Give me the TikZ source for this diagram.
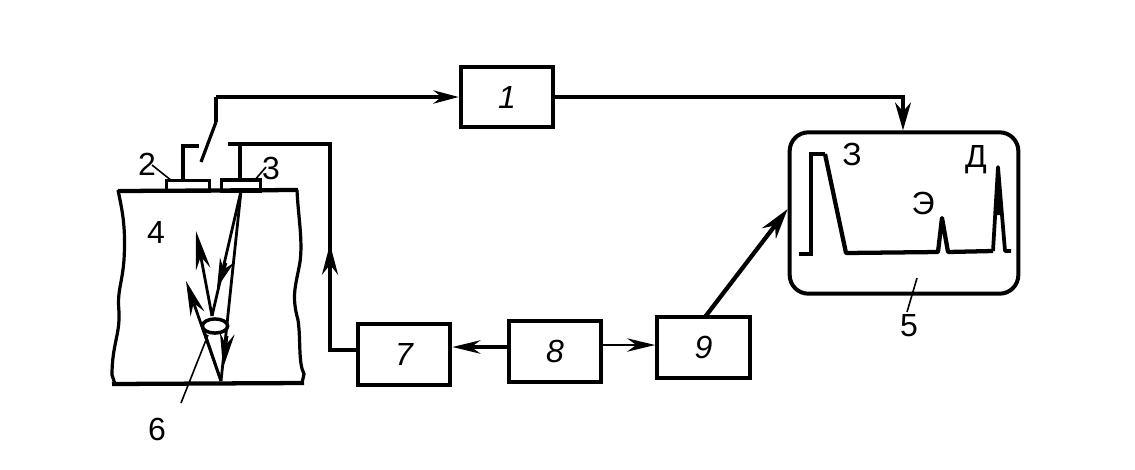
\documentclass[tikz,border=0pt]{standalone}
\usepackage{fontspec}
\setmainfont{Liberation Sans}
\usetikzlibrary{arrows.meta}
\tikzset{
  blockbox/.style={draw=black,line width=3pt,fill=white,minimum width=69.5pt,minimum height=45.5pt,inner sep=0pt,font=\itshape\fontsize{24}{24}\selectfont},
  wire/.style={draw=black,line width=2.4pt,line join=miter},
  ray/.style={draw=black,line width=2.1pt},
  heavy/.style={draw=black,line width=3.2pt},
  lbl/.style={font=\fontsize{24}{24}\selectfont,inner sep=0pt},
  leader/.style={draw=black,line width=1.2pt}
}
\begin{document}
\begin{tikzpicture}[x=0.75pt,y=-0.75pt]
\useasboundingbox (0,0) rectangle (1135,469);
\fill[white] (0,0) rectangle (1135,469);
% blocks
\node[blockbox] (b1) at (507,97) {1};
\node[blockbox] (b7) at (404,354.5) {7};
\node[blockbox] (b8) at (555,351.5) {8};
\node[blockbox] (b9) at (703.5,347.5) {9};
% screen
\node[draw=black,line width=3pt,rounded corners=14pt,minimum width=171.5pt,minimum height=121pt,inner sep=0pt] (b5) at (904,213) {};
% transducers
\node[draw=black,line width=2.6pt,minimum width=32pt,minimum height=8pt,inner sep=0pt] (t2) at (188,186) {};
\node[draw=black,line width=2.6pt,minimum width=29pt,minimum height=8pt,inner sep=0pt] (t3) at (241,185.5) {};
% specimen
\draw[line width=2.4pt] (118,190) .. controls (122,210) and (126,225) .. (124,260) .. controls (122,285) and (117,290) .. (119,312) .. controls (120,335) and (112,345) .. (112,375) -- (115,384);
\draw[line width=2.4pt] (297,190) .. controls (298,215) and (303,240) .. (300,262) .. controls (296,285) and (291,295) .. (298,320) .. controls (301,340) and (298,362) .. (304,374) -- (302,383);
\coordinate (topL) at (118,191);
\coordinate (topR) at (298,190);
\coordinate (botL) at (112,384);
\coordinate (botR) at (304,383);
\draw[heavy] (topL) -- (topR);
\draw[heavy] (botL) -- (botR);
% switch and wiring
\coordinate (sw) at (216,122);
\coordinate (swe) at (201,162);
\coordinate (stubL) at (199,146);
\coordinate (stubR) at (228,144);
\coordinate (j1) at (216,97);
\coordinate (j2) at (903,97);
\coordinate (j3) at (903,104);
\draw[wire] (sw) -- (j1);
\draw[wire,-{Stealth[length=19pt,width=10pt]}] (j1) -- (b1.west);
\draw[wire] (sw) -- (swe);
\draw[wire] (t2.north -| 183,0) -- (183,146) -- (stubL);
\draw[wire] (stubR) -- (330,144) -- (330,350) -- (b7.west |- 0,350);
\draw[wire,line width=3pt] (240,144) -- (t3.north -| 240,0);
\draw[wire,-{Stealth[length=23pt,width=12pt]}] (330,275) -- (330,244);
\draw[wire] (b1.east) -- (j2) -- (j3);
\draw[wire,-{Stealth[length=21pt,width=12pt]}] (j3) -- (b5.north -| 903,0);
\draw[wire,line width=3.2pt,-{Stealth[length=23pt,width=13pt]}] (705,317) -- (b5.west |- 0,209);
\draw[wire,line width=3pt,-{Stealth[length=21pt,width=10pt]}] (b8.west |- 0,347) -- (b7.east |- 0,347);
\draw[wire,line width=1.9pt,-{Stealth[length=21pt,width=10pt]}] (b8.east |- 0,345) -- (b9.west |- 0,345);
% trace
\draw[line join=miter,line width=2.6pt] (799,254) -- (811,254) -- (811,154) -- (825,154);
\draw[line join=round,line width=3.2pt] (825,154) -- (846,253) -- (938,252) -- (942,218) -- (948,252) -- (993,251);
\draw[line join=round,line width=2.8pt] (993,251) -- (998,167) -- (1005,251) -- (1011,251);
\fill (995.5,215) -- (998,167) -- (1001,215) -- cycle;
% rays
\coordinate (src) at (241,191);
\coordinate (bot) at (221,381);
\coordinate (refl) at (212,316);
\draw[ray] (src) -- (bot);
\draw[ray] (src) -- (refl);
\draw[ray,-{Stealth[length=29pt,width=11pt]}] (refl) -- (196,231);
\draw[ray,-{Stealth[length=26pt,width=11pt]}] (bot) -- (186,281);
\draw[ray] (203,328) -- (bot);
\draw[ray,-{Stealth[length=26pt,width=11pt]}] (227,336) -- (223,368);
\draw[ray,-{Stealth[length=22pt,width=11pt]}] (226,263) -- (217,288);
% leaders
\draw[leader] (181,403) -- (208,335);
\draw[leader] (152,165) -- (172,181);
\draw[leader] (266,167) -- (254,181);
\draw[leader] (917,278) -- (907,312);
% oval
\draw[line width=2.6pt,fill=white] (215,326) ellipse (9.5pt and 5.3pt);
% labels
\node[lbl] (n2) at (147,164) {2};
\node[lbl] (n3) at (271,168) {3};
\node[lbl] (n4) at (156,232) {4};
\node[lbl] (n5) at (909,326) {5};
\node[lbl] (n6) at (157,429) {6};
\node[lbl] (z) at (852,154) {З};
\node[lbl] (d) at (976,160) {Д};
\node[lbl] (e) at (923,203) {Э};
\end{tikzpicture}
\end{document}
